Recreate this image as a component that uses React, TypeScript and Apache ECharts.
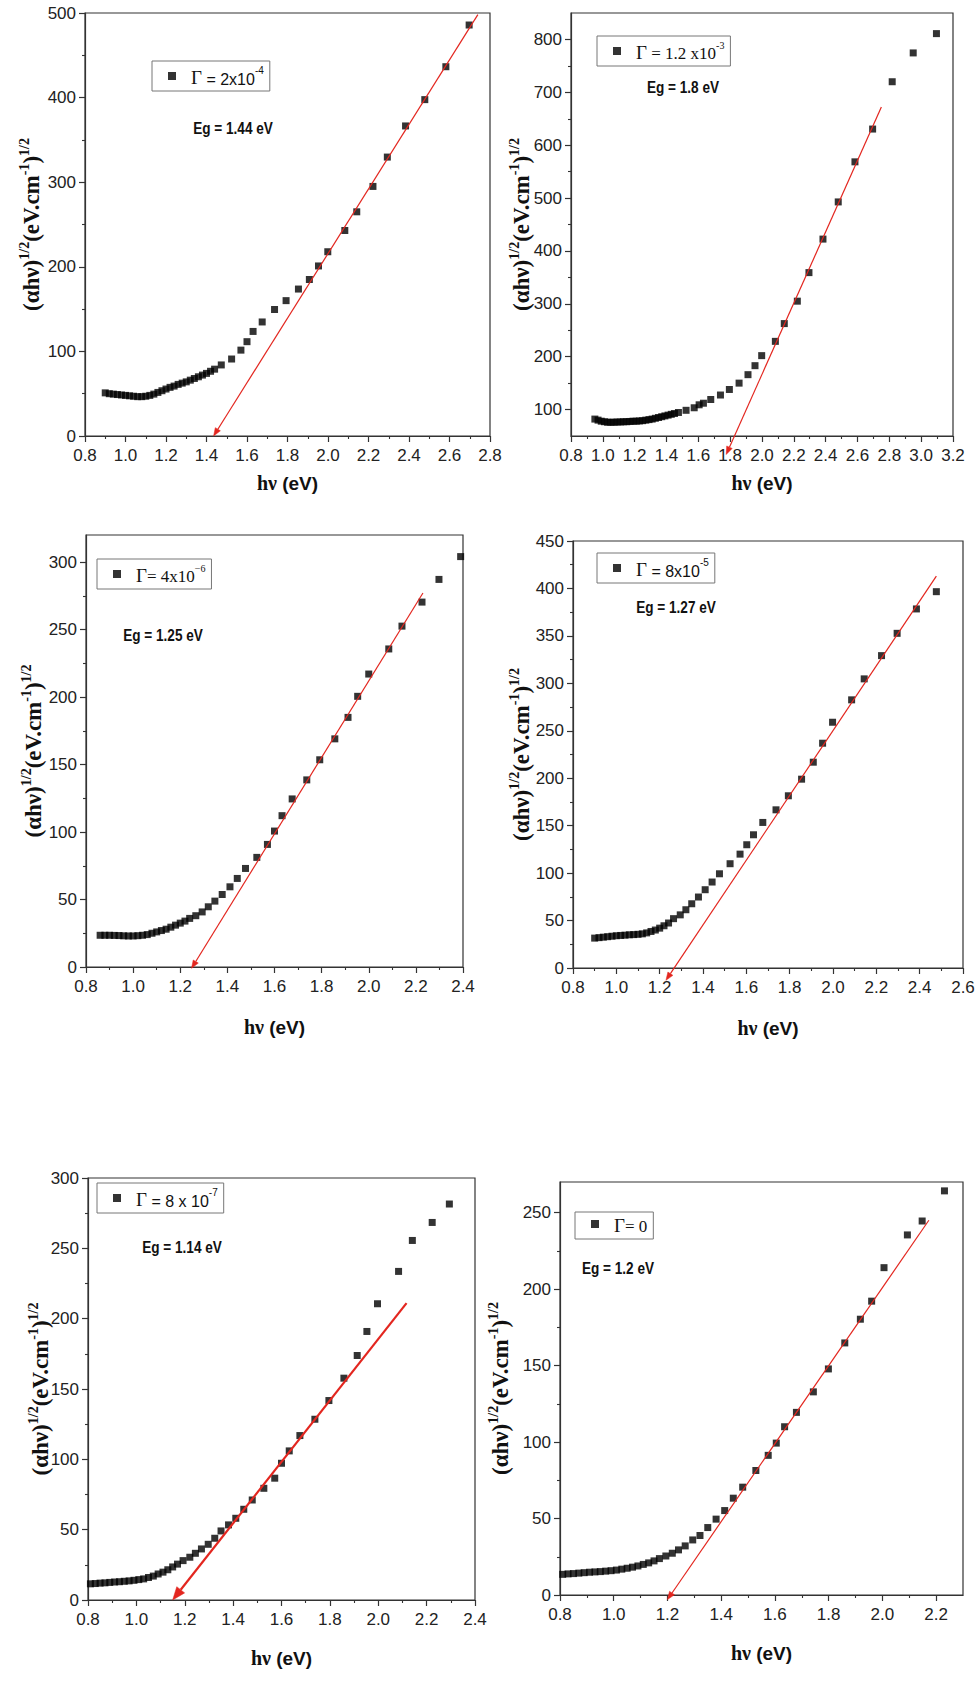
import React, { useEffect, useRef } from 'react';
import * as echarts from 'echarts';

// ---------- data ----------
const p1Points = [
  [0.90, 51], [0.92, 50], [0.94, 49.5], [0.96, 49], [0.98, 48.5], [1.00, 48], [1.02, 47.5], [1.04, 47],
  [1.06, 46.5], [1.08, 46.5], [1.10, 47], [1.12, 48], [1.14, 49.5], [1.16, 51.5], [1.18, 53.5], [1.20, 55.5],
  [1.22, 57.5], [1.24, 59], [1.26, 61], [1.28, 62.5], [1.30, 64], [1.32, 66], [1.34, 68], [1.36, 70],
  [1.38, 72], [1.40, 74], [1.42, 76.5], [1.44, 79],
  [1.473, 84], [1.524, 91], [1.57, 101.5], [1.60, 111.5], [1.63, 123.6], [1.675, 134.8], [1.736, 149.5],
  [1.793, 160], [1.854, 173.7], [1.908, 185], [1.953, 201], [1.999, 217.8], [2.083, 242.9], [2.142, 265],
  [2.222, 295], [2.293, 329.7], [2.383, 366.5], [2.478, 397.6], [2.582, 436.5], [2.697, 485.8],
];
const p2Points = [
  [0.95, 82], [0.97, 80], [0.99, 78], [1.01, 77], [1.03, 76], [1.05, 76], [1.07, 76], [1.09, 76.5],
  [1.11, 76.5], [1.13, 77], [1.15, 77], [1.17, 77.5], [1.19, 78], [1.21, 78], [1.23, 78.5], [1.25, 79],
  [1.27, 80], [1.29, 81], [1.31, 82], [1.33, 83.5], [1.35, 85], [1.37, 86.5], [1.39, 88], [1.41, 89.5],
  [1.43, 91], [1.45, 92.5], [1.475, 94.5],
  [1.523, 98.6], [1.574, 103.4], [1.605, 109], [1.632, 112], [1.678, 119], [1.739, 127.5], [1.795, 138],
  [1.856, 150], [1.912, 166], [1.956, 183], [1.998, 202], [2.084, 229], [2.14, 262.6], [2.222, 305],
  [2.295, 359], [2.383, 422.4], [2.479, 492.7], [2.584, 568.5], [2.695, 630.5], [2.818, 720], [2.95, 774.5],
  [3.096, 811],
];
const p3Points = [
  [0.86, 23.5], [0.88, 23.5], [0.90, 23.5], [0.92, 23.4], [0.94, 23.3], [0.96, 23.1], [0.98, 23], [1.00, 23],
  [1.02, 23.2], [1.04, 23.5], [1.06, 24], [1.08, 25], [1.10, 26], [1.12, 27], [1.14, 28], [1.16, 29.5],
  [1.18, 31], [1.20, 32.5], [1.22, 34], [1.24, 36], [1.266, 38],
  [1.293, 40.8], [1.319, 44.6], [1.347, 48.8], [1.378, 53.7], [1.411, 59.4], [1.442, 65.6], [1.477, 73],
  [1.525, 81.2], [1.57, 90.8], [1.60, 100.7], [1.632, 112.1], [1.675, 124.5], [1.737, 138.6], [1.792, 153.5],
  [1.856, 169], [1.912, 184.9], [1.953, 200.5], [2.0, 217], [2.085, 235.6], [2.141, 252.5], [2.226, 270.3],
  [2.298, 287.1], [2.39, 304],
];
const p4Points = [
  [0.90, 31.5], [0.92, 32], [0.94, 32.5], [0.96, 33], [0.98, 33.5], [1.00, 34], [1.02, 34.3], [1.04, 34.6],
  [1.06, 35], [1.08, 35.2], [1.10, 35.5], [1.12, 36], [1.14, 37], [1.16, 38.5], [1.18, 40], [1.20, 42],
  [1.22, 44.5],
  [1.241, 47.4], [1.264, 52], [1.295, 56], [1.321, 61.4], [1.348, 67.7], [1.379, 74.8], [1.41, 82.5],
  [1.442, 90.6], [1.476, 99.3], [1.525, 109.9], [1.571, 120], [1.602, 129.9], [1.633, 140.4], [1.676, 153.4],
  [1.737, 166.7], [1.794, 181.5], [1.855, 199], [1.909, 216.9], [1.952, 236.9], [1.998, 259], [2.086, 282.6],
  [2.144, 304.7], [2.224, 329.2], [2.296, 352.7], [2.385, 378.4], [2.477, 396.6],
];
const p5Points = [
  [0.81, 11.5], [0.83, 11.7], [0.85, 12], [0.87, 12.2], [0.89, 12.5], [0.91, 12.8], [0.93, 13], [0.95, 13.3],
  [0.97, 13.6], [0.99, 14], [1.01, 14.5], [1.03, 15], [1.05, 16], [1.07, 17], [1.09, 18.5], [1.11, 19.8],
  [1.13, 21.5], [1.15, 23.5], [1.17, 25.5], [1.193, 28],
  [1.221, 30.4], [1.244, 33.2], [1.269, 36.3], [1.297, 39.6], [1.324, 43.9], [1.35, 49.1], [1.381, 53.4],
  [1.411, 58.1], [1.444, 64.5], [1.479, 71.1], [1.527, 79.4], [1.572, 86.6], [1.60, 97.2], [1.632, 106],
  [1.676, 116.9], [1.738, 128.5], [1.796, 141.8], [1.858, 157.7], [1.913, 173.8], [1.953, 190.9],
  [1.997, 210.6], [2.084, 233.6], [2.141, 255.6], [2.223, 268.4], [2.294, 281.5],
];
const p6Points = [
  [0.81, 13.5], [0.83, 13.8], [0.85, 14], [0.87, 14.3], [0.89, 14.6], [0.91, 14.9], [0.93, 15.1], [0.95, 15.3],
  [0.97, 15.6], [0.99, 15.9], [1.01, 16.3], [1.03, 16.9], [1.05, 17.5], [1.07, 18.2], [1.09, 19], [1.11, 20],
  [1.13, 21], [1.15, 22.3], [1.17, 23.8],
  [1.194, 25.5], [1.218, 27.3], [1.241, 29.5], [1.266, 32.1], [1.294, 36], [1.321, 38.9], [1.35, 44.1],
  [1.381, 49.6], [1.413, 55.2], [1.445, 63.3], [1.48, 70.5], [1.529, 81.4], [1.575, 91.3], [1.605, 99.3],
  [1.636, 110], [1.68, 119.4], [1.743, 132.8], [1.799, 147.8], [1.86, 164.8], [1.918, 180.3], [1.96, 192.1],
  [2.006, 214], [2.093, 235.4], [2.148, 244.5], [2.231, 264.2],
];

// fitted lines: [x at arrow tip, y at arrow tip, x at far end, y at far end]
const p1Fit = [1.435, 0, 2.74, 498];
const p2Fit = [1.775, 15, 2.75, 672];
const p3Fit = [1.248, -1, 2.23, 277];
const p4Fit = [1.229, -13, 2.477, 413];
const p5Fit = [1.15, 0, 2.117, 211];
const p6Fit = [1.2, -3, 2.173, 245];

// axis ranges and tick labels
const p1XTicks = [0.8, 1.0, 1.2, 1.4, 1.6, 1.8, 2.0, 2.2, 2.4, 2.6, 2.8];
const p1YTicks = [0, 100, 200, 300, 400, 500];
const p2XTicks = [0.8, 1.0, 1.2, 1.4, 1.6, 1.8, 2.0, 2.2, 2.4, 2.6, 2.8, 3.0, 3.2];
const p2YTicks = [100, 200, 300, 400, 500, 600, 700, 800];
const p3XTicks = [0.8, 1.0, 1.2, 1.4, 1.6, 1.8, 2.0, 2.2, 2.4];
const p3YTicks = [0, 50, 100, 150, 200, 250, 300];
const p4XTicks = [0.8, 1.0, 1.2, 1.4, 1.6, 1.8, 2.0, 2.2, 2.4, 2.6];
const p4YTicks = [0, 50, 100, 150, 200, 250, 300, 350, 400, 450];
const p5XTicks = [0.8, 1.0, 1.2, 1.4, 1.6, 1.8, 2.0, 2.2, 2.4];
const p5YTicks = [0, 50, 100, 150, 200, 250, 300];
const p6XTicks = [0.8, 1.0, 1.2, 1.4, 1.6, 1.8, 2.0, 2.2];
const p6YTicks = [0, 50, 100, 150, 200, 250];

const p1Range = { x: [0.8, 2.8], y: [0, 500] };
const p2Range = { x: [0.8, 3.2], y: [50, 850] };
const p3Range = { x: [0.8, 2.4], y: [0, 320] };
const p4Range = { x: [0.8, 2.6], y: [0, 450] };
const p5Range = { x: [0.8, 2.4], y: [0, 300] };
const p6Range = { x: [0.8, 2.3], y: [0, 270] };

const seriesNames = ['Γ = 2x10⁻⁴', 'Γ = 1.2 x10⁻³', 'Γ= 4x10⁻⁶', 'Γ = 8x10⁻⁵', 'Γ = 8 x 10⁻⁷', 'Γ= 0'];
const legendRich = [
  '{g|Γ}{a| = 2x10}{as|-4}',
  '{g|Γ}{r| = 1.2 x10}{rs|-3}',
  '{g|Γ}{r|= 4x10}{rs|−6}',
  '{g|Γ}{a| = 8x10}{as|-5}',
  '{g|Γ}{a| = 8 x 10}{as|-7}',
  '{g|Γ}{r|= 0}',
];
const gapLabels = ['Eg = 1.44 eV', 'Eg = 1.8 eV', 'Eg = 1.25 eV', 'Eg = 1.27 eV', 'Eg = 1.14 eV', 'Eg = 1.2 eV'];

// ---------- layout & style ----------
const NARROW = "'Liberation Sans Narrow', 'Arial Narrow', 'Liberation Sans', Arial, sans-serif";
const SERIF = "'Liberation Serif', 'Times New Roman', 'DejaVu Serif', serif";
const RED = '#e3261f';
const AXIS = '#333';

const layouts = [
  { grid: { left: 85, top: 13, width: 405, height: 423 }, yGap: 42, xGap: 35, legend: [152, 61], eg: [233, 128], red: [1.2, 8, 6] },
  { grid: { left: 571, top: 13, width: 382, height: 423 }, yGap: 38, xGap: 35, legend: [597, 36], eg: [683, 87], red: [1.2, 8, 6] },
  { grid: { left: 86, top: 535, width: 377, height: 432 }, yGap: 41, xGap: 48, legend: [97, 559], eg: [163, 635], red: [1.2, 8, 6] },
  { grid: { left: 573, top: 541, width: 390, height: 427 }, yGap: 40, xGap: 48, legend: [597, 553], eg: [676, 607], red: [1.2, 8, 6] },
  { grid: { left: 88, top: 1178, width: 387, height: 422 }, yGap: 36, xGap: 46, legend: [97, 1183], eg: [182, 1247], red: [2.2, 13, 10] },
  { grid: { left: 560, top: 1182, width: 403, height: 413 }, yGap: 48, xGap: 46, legend: [575, 1212], eg: [618, 1268], red: [1.2, 8, 6] },
];

const panels = [
  { pts: p1Points, fit: p1Fit, xt: p1XTicks, yt: p1YTicks, r: p1Range },
  { pts: p2Points, fit: p2Fit, xt: p2XTicks, yt: p2YTicks, r: p2Range },
  { pts: p3Points, fit: p3Fit, xt: p3XTicks, yt: p3YTicks, r: p3Range },
  { pts: p4Points, fit: p4Fit, xt: p4XTicks, yt: p4YTicks, r: p4Range },
  { pts: p5Points, fit: p5Fit, xt: p5XTicks, yt: p5YTicks, r: p5Range },
  { pts: p6Points, fit: p6Fit, xt: p6XTicks, yt: p6YTicks, r: p6Range },
];

const midpoints = (arr: number[]) => arr.slice(1).map((v, i) => +((v + arr[i]) / 2).toFixed(4));

const yName = '{b|(αhν)}{s|1/2}{b|(eV.cm}{s|-1}{b|)}{s|1/2}';
const yNameStyle = {
  rich: {
    b: { fontFamily: SERIF, fontWeight: 'bold', fontSize: 23, lineHeight: 26, verticalAlign: 'bottom', color: '#111' },
    s: { fontFamily: SERIF, fontWeight: 'bold', fontSize: 14, lineHeight: 14, verticalAlign: 'top', color: '#111' },
  },
};
const xName = '{h|hν}{e| (eV)}';
const xNameStyle = {
  rich: {
    h: { fontFamily: SERIF, fontWeight: 'bold', fontSize: 20, lineHeight: 24, color: '#111' },
    e: { fontFamily: NARROW, fontWeight: 'bold', fontSize: 19, lineHeight: 24, color: '#111' },
  },
};

function arrowRender(lw: number, headLen: number, headW: number) {
  return (_params: any, api: any) => {
    const tip = api.coord([api.value(0), api.value(1)]);
    const end = api.coord([api.value(2), api.value(3)]);
    const dx = end[0] - tip[0];
    const dy = end[1] - tip[1];
    const len = Math.hypot(dx, dy) || 1;
    const ux = dx / len;
    const uy = dy / len;
    const bx = tip[0] + ux * headLen;
    const by = tip[1] + uy * headLen;
    const px = (-uy * headW) / 2;
    const py = (ux * headW) / 2;
    return {
      type: 'group',
      children: [
        { type: 'line', shape: { x1: bx, y1: by, x2: end[0], y2: end[1] }, style: { stroke: RED, lineWidth: lw } },
        {
          type: 'polygon',
          shape: { points: [[tip[0], tip[1]], [bx + px, by + py], [bx - px, by - py]] },
          style: { fill: RED, stroke: RED, lineWidth: 0.5 },
        },
      ],
    };
  };
}

function buildOption() {
  const grid: any[] = [];
  const xAxis: any[] = [];
  const yAxis: any[] = [];
  const series: any[] = [];
  const legend: any[] = [];
  const graphic: any[] = [];
  const minorX: any[] = [];
  const minorY: any[] = [];

  panels.forEach((p, i) => {
    const L = layouts[i];
    grid.push({ ...L.grid, show: true, borderColor: AXIS, borderWidth: 1.2, outerBoundsMode: 'none', containLabel: false });
    const xFmt = (v: number) => v.toFixed(1);
    xAxis.push({
      type: 'value', gridIndex: i, position: 'bottom', min: p.r.x[0], max: p.r.x[1],
      axisLine: { show: true, onZero: false, lineStyle: { color: AXIS, width: 1.2 } },
      axisTick: { show: true, inside: false, length: 6, customValues: p.xt, lineStyle: { color: AXIS, width: 1.2 } },
      axisLabel: { customValues: p.xt, formatter: xFmt, margin: 11, fontSize: 17, fontFamily: NARROW, color: '#222' },
      splitLine: { show: false },
      name: xName, nameLocation: 'middle', nameGap: L.xGap, nameTextStyle: xNameStyle, nameMoveOverlap: false,
    });
    yAxis.push({
      type: 'value', gridIndex: i, position: 'left', min: p.r.y[0], max: p.r.y[1],
      axisLine: { show: true, onZero: false, lineStyle: { color: AXIS, width: 1.2 } },
      axisTick: { show: true, inside: false, length: 6, customValues: p.yt, lineStyle: { color: AXIS, width: 1.2 } },
      axisLabel: { customValues: p.yt, formatter: (v: number) => String(v), margin: 9, fontSize: 17, fontFamily: NARROW, color: '#222' },
      splitLine: { show: false },
      name: yName, nameLocation: 'middle', nameGap: L.yGap, nameRotate: 90, nameTextStyle: yNameStyle,
      nameMoveOverlap: false,
    });
    minorX.push({
      type: 'value', gridIndex: i, position: 'bottom', min: p.r.x[0], max: p.r.x[1],
      axisLine: { show: false, onZero: false },
      axisTick: { show: true, inside: false, length: 3, customValues: midpoints(p.xt), lineStyle: { color: AXIS, width: 1.1 } },
      axisLabel: { show: false }, splitLine: { show: false },
    });
    minorY.push({
      type: 'value', gridIndex: i, position: 'left', min: p.r.y[0], max: p.r.y[1],
      axisLine: { show: false, onZero: false },
      axisTick: { show: true, inside: false, length: 3, customValues: midpoints(p.yt), lineStyle: { color: AXIS, width: 1.1 } },
      axisLabel: { show: false }, splitLine: { show: false },
    });

    series.push({
      type: 'scatter', name: seriesNames[i], xAxisIndex: i, yAxisIndex: i,
      data: p.pts, symbol: 'rect', symbolSize: 7, itemStyle: { color: '#000' }, z: 2,
    });
    series.push({
      type: 'custom', name: 'fit' + i, xAxisIndex: i, yAxisIndex: i, clip: false, silent: true, z: 3,
      data: [p.fit], renderItem: arrowRender(L.red[0], L.red[1], L.red[2]),
    });

    legend.push({
      data: [{ name: seriesNames[i], icon: 'rect' }],
      left: L.legend[0], top: L.legend[1],
      orient: 'horizontal', selectedMode: false,
      borderColor: '#777', borderWidth: 1, borderRadius: 0,
      padding: [4, 6, 4, 16], itemWidth: 8, itemHeight: 8,
      formatter: () => legendRich[i],
      textStyle: {
        rich: {
          g: { fontFamily: SERIF, fontSize: 19, lineHeight: 22, verticalAlign: 'bottom', color: '#111', padding: [0, 0, 0, 10] },
          a: { fontFamily: NARROW, fontSize: 16, lineHeight: 22, verticalAlign: 'bottom', color: '#111' },
          as: { fontFamily: NARROW, fontSize: 10, lineHeight: 12, verticalAlign: 'top', color: '#111' },
          r: { fontFamily: SERIF, fontSize: 17, lineHeight: 22, verticalAlign: 'bottom', color: '#111' },
          rs: { fontFamily: SERIF, fontSize: 10, lineHeight: 12, verticalAlign: 'top', color: '#111' },
        },
      },
    });

    graphic.push({
      type: 'text', x: L.eg[0], y: L.eg[1], scaleX: 0.8, silent: true,
      style: {
        text: gapLabels[i], fontFamily: NARROW, fontWeight: 'bold', fontSize: 17, fill: '#111',
        align: 'center', verticalAlign: 'middle',
      },
    });
  });

  return {
    animation: false,
    backgroundColor: '#fff',
    grid,
    xAxis: [...xAxis, ...minorX],
    yAxis: [...yAxis, ...minorY],
    legend,
    graphic,
    series,
  };
}

export default function App() {
  const ref = useRef<HTMLDivElement>(null);
  useEffect(() => {
    if (!ref.current) return;
    const chart = echarts.init(ref.current, undefined, { renderer: 'svg' });
    chart.setOption(buildOption() as any);
    return () => chart.dispose();
  }, []);
  return (
    <div
      ref={ref}
      style={{ position: 'absolute', left: 0, top: 0, width: 975, height: 1704, background: '#fff' }}
    />
  );
}
